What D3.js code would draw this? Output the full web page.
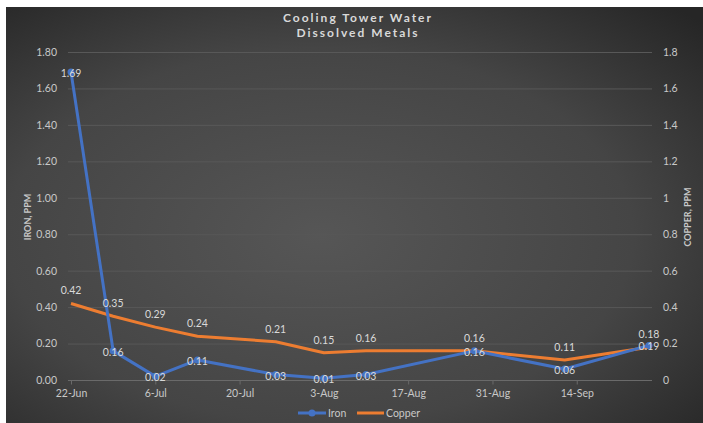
<!DOCTYPE html>
<html>
<head>
<meta charset="utf-8">
<script src="https://cdn.jsdelivr.net/npm/d3@7"></script>
<style>
  html, body { margin: 0; padding: 0; background: #fff; }
  svg text { font-family: Lato, "Open Sans", sans-serif; }
</style>
</head>
<body>
<div id="chart"></div>
<script>
// sample dates and values
var dates = ["2020-06-22", "2020-06-29", "2020-07-06", "2020-07-13", "2020-07-26",
             "2020-08-03", "2020-08-10", "2020-08-28", "2020-09-12", "2020-09-26"];
var iron = [1.69, 0.16, 0.02, 0.11, 0.03, 0.01, 0.03, 0.16, 0.06, 0.19];
var copper = [0.42, 0.35, 0.29, 0.24, 0.21, 0.15, 0.16, 0.16, 0.11, 0.18];
var leftTicks = [0, 0.2, 0.4, 0.6, 0.8, 1.0, 1.2, 1.4, 1.6, 1.8];
var xTickDates = ["2020-06-22", "2020-07-06", "2020-07-20", "2020-08-03",
                  "2020-08-17", "2020-08-31", "2020-09-14"];

var W = 703, H = 423;
var parse = d3.timeParse("%Y-%m-%d");
var DAY = 864e5;

var svg = d3.select("#chart").append("svg")
   .attr("width", W)
   .attr("height", H);

//background gradient
var defs = svg.append("defs");
var grad = defs.append("radialGradient")
   .attr("id", "bg")
   .attr("cx", "45%").attr("cy", "55%").attr("r", "75%");
grad.append("stop").attr("offset", "0%").attr("stop-color", "#565656");
grad.append("stop").attr("offset", "60%").attr("stop-color", "#454545");
grad.append("stop").attr("offset", "100%").attr("stop-color", "#262626");

svg.append("rect")
   .attr("x", 6).attr("y", 7)
   .attr("width", W - 6).attr("height", H - 7)
   .style("fill", "url(#bg)");

var plot = {left: 68, right: 652, top: 52, bottom: 380};

var first = parse(dates[0]), last = parse(dates[dates.length - 1]);
var x = d3.scaleTime()
   .domain([new Date(+first - DAY / 2), new Date(+last + DAY / 2)])
   .range([plot.left, plot.right]);
var yL = d3.scaleLinear().domain([0, 1.8]).range([plot.bottom, plot.top]);
var yR = d3.scaleLinear().domain([0, 1.8]).range([plot.bottom, plot.top]);

//gridlines
svg.append("g")
   .selectAll("line")
   .data(leftTicks)
   .enter().append("line")
   .attr("x1", plot.left).attr("x2", plot.right)
   .attr("y1", function(d) { return yL(d) + 0.5; })
   .attr("y2", function(d) { return yL(d) + 0.5; })
   .style("stroke", function(d) { return d == 0 ? "#6a6a6a" : "#585858"; })
   .style("stroke-width", 1);

//left axis
var gl = svg.append("g")
   .attr("transform", "translate(" + plot.left + ",0)")
   .call(d3.axisLeft(yL).tickValues(leftTicks).tickFormat(d3.format(".2f")).tickSize(0).tickPadding(11));
//right axis
var gr = svg.append("g")
   .attr("transform", "translate(" + plot.right + ",0)")
   .call(d3.axisRight(yR).tickValues(leftTicks).tickFormat(function(d) { return d3.format("")(+d.toFixed(1)); }).tickSize(0).tickPadding(11));
//x axis
var gx = svg.append("g")
   .attr("transform", "translate(0," + (plot.bottom + 0.5) + ")")
   .call(d3.axisBottom(x).tickValues(xTickDates.map(parse)).tickFormat(d3.timeFormat("%-d-%b")).tickSize(4).tickPadding(5));

[gl, gr, gx].forEach(function(g) {
  g.select(".domain").remove();
  g.selectAll("text")
     .style("fill", "#c8c8c8")
     .style("font-size", "10.5px");
  g.selectAll("line").style("stroke", "#6a6a6a");
});

//axis titles
svg.append("text")
   .text("IRON, PPM")
   .attr("transform", "translate(31,217) rotate(-90)")
   .attr("text-anchor", "middle")
   .style("font-size", "9px")
   .style("font-weight", "bold")
   .style("fill", "#c8c8c8");
svg.append("text")
   .text("COPPER, PPM")
   .attr("transform", "translate(691,217) rotate(-90)")
   .attr("text-anchor", "middle")
   .style("font-size", "9px")
   .style("font-weight", "bold")
   .style("fill", "#c8c8c8");

//title
["Cooling Tower Water", "Dissolved Metals"].forEach(function(t, i) {
  svg.append("text")
     .text(t)
     .attr("x", 358)
     .attr("y", 22 + i * 15)
     .attr("text-anchor", "middle")
     .style("font-size", "12px")
     .style("font-weight", "bold")
     .style("letter-spacing", "2px")
     .style("fill", "#d9d9d9");
});

var copperPts = dates.map(function(d, i) { return {date: parse(d), v: copper[i]}; });
var ironPts = dates.map(function(d, i) { return {date: parse(d), v: iron[i]}; });

var lineCu = d3.line()
   .x(function(d) { return x(d.date); })
   .y(function(d) { return yR(d.v); });
var lineFe = d3.line()
   .x(function(d) { return x(d.date); })
   .y(function(d) { return yL(d.v); });

svg.append("path")
   .datum(copperPts)
   .attr("d", lineCu)
   .style("fill", "none")
   .style("stroke", "#ed7d31")
   .style("stroke-width", 3)
   .style("stroke-linejoin", "round");

svg.append("path")
   .datum(ironPts)
   .attr("d", lineFe)
   .style("fill", "none")
   .style("stroke", "#4472c4")
   .style("stroke-width", 3)
   .style("stroke-linejoin", "round");

svg.append("g")
   .selectAll("circle")
   .data(ironPts)
   .enter().append("circle")
   .attr("cx", function(d) { return x(d.date); })
   .attr("cy", function(d) { return yL(d.v); })
   .attr("r", 3.5)
   .style("fill", "#4472c4");

//data labels: iron centered on point, copper above
svg.append("g")
   .selectAll("text")
   .data(ironPts)
   .enter().append("text")
   .text(function(d) { return d3.format(".2f")(d.v); })
   .attr("x", function(d) { return x(d.date); })
   .attr("y", function(d) { return yL(d.v) + 5; })
   .attr("text-anchor", "middle")
   .style("font-size", "10.5px")
   .style("fill", "#d9d9d9");

svg.append("g")
   .selectAll("text")
   .data(copperPts)
   .enter().append("text")
   .text(function(d) { return d3.format(".2f")(d.v); })
   .attr("x", function(d) { return x(d.date); })
   .attr("y", function(d) { return yR(d.v) - 9; })
   .attr("text-anchor", "middle")
   .style("font-size", "10.5px")
   .style("fill", "#d9d9d9");

//legend
var lg = svg.append("g").attr("transform", "translate(298,413)");
lg.append("line").attr("x1", 0).attr("x2", 28).style("stroke", "#4472c4").style("stroke-width", 3);
lg.append("circle").attr("cx", 14).attr("r", 3.5).style("fill", "#4472c4");
lg.append("text").text("Iron").attr("x", 30).attr("y", 3.5)
   .style("font-size", "10.5px").style("fill", "#c8c8c8");
lg.append("line").attr("x1", 59).attr("x2", 86).style("stroke", "#ed7d31").style("stroke-width", 3);
lg.append("text").text("Copper").attr("x", 88).attr("y", 3.5)
   .style("font-size", "10.5px").style("fill", "#c8c8c8");
</script>
</body>
</html>
